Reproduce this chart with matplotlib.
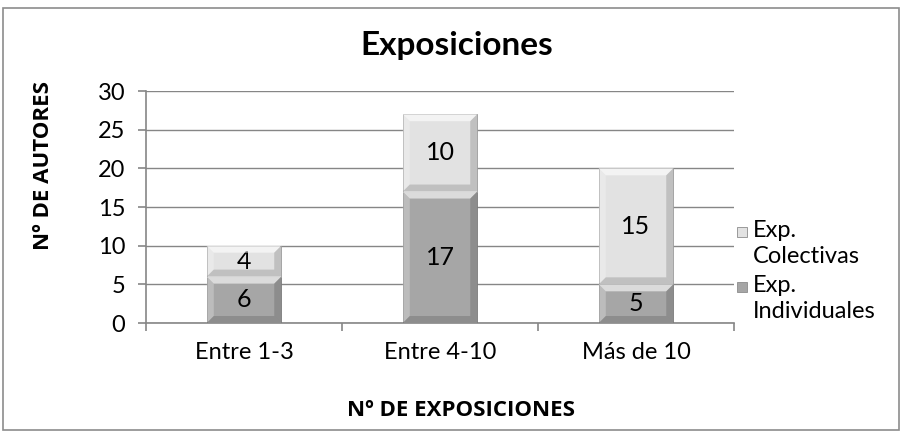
import matplotlib
matplotlib.use("Agg")
import matplotlib.pyplot as plt
from matplotlib.patches import Polygon, Rectangle
import numpy as np

categories = ["Entre 1-3", "Entre 4-10", "Más de 10"]
individuales = [6, 17, 5]
colectivas = [4, 10, 15]
series_names = ["Exp.\nIndividuales", "Exp.\nColectivas"]
yticks = [0, 5, 10, 15, 20, 25, 30]

plt.rcParams['font.family'] = ['Lato', 'DejaVu Sans']

W, H = 902, 432
fig = plt.figure(figsize=(W / 100, H / 100), dpi=100)
fig.patch.set_facecolor("white")
# outer frame
fig.add_artist(Rectangle((3 / W, 2 / H), 896 / W, 422 / H, transform=fig.transFigure,
                         fill=False, edgecolor="#8c8c8c", linewidth=1.2))

ax = fig.add_axes([146 / W, (H - 323) / H, (734 - 146) / W, (323 - 91) / H])
x = np.arange(len(categories))
width = 0.38
col_ind = "#a6a6a6"
col_col = "#e2e2e2"
b1 = ax.bar(x, individuales, width, color=col_ind, edgecolor="#7f7f7f", linewidth=0.6, zorder=3)
b2 = ax.bar(x, colectivas, width, bottom=individuales, color=col_col, edgecolor="#a0a0a0",
            linewidth=0.6, zorder=3)

FS = 17
ax.set_xlim(-0.5, len(categories) - 0.5)
ax.set_ylim(0, 30)
ax.set_yticks(yticks)
ax.set_xticks(x)
ax.set_xticklabels(categories, fontsize=FS)
ax.set_xticks(np.arange(len(categories) + 1) - 0.5, minor=True)
ax.tick_params(axis="x", which="major", length=0, pad=14)
ax.tick_params(axis="x", which="minor", length=6, color="#868686", width=1.2)
ax.tick_params(axis="y", length=6, color="#868686", width=1.2, labelsize=FS, pad=9)
ax.grid(axis="y", color="#868686", linewidth=1.0, zorder=0)
for s in ["top", "right"]:
    ax.spines[s].set_visible(False)
for s in ["left", "bottom"]:
    ax.spines[s].set_color("#868686")
    ax.spines[s].set_linewidth(1.2)

fig.canvas.draw()
# bevel effect computed from each bar's drawn geometry
bev = 7
for bars, base in [(b1, col_ind), (b2, col_col)]:
    for p in bars:
        bb = p.get_window_extent()
        x0, x1, y0, y1 = bb.x0, bb.x1, bb.y0, bb.y1
        b = min(bev, (y1 - y0) / 3)
        polys = [
            ([(x0, y1), (x1, y1), (x1 - b, y1 - b), (x0 + b, y1 - b)], "white", 0.6),
            ([(x0, y0), (x0, y1), (x0 + b, y1 - b), (x0 + b, y0 + b)], "white", 0.25),
            ([(x1, y0), (x1, y1), (x1 - b, y1 - b), (x1 - b, y0 + b)], "black", 0.15),
            ([(x0, y0), (x1, y0), (x1 - b, y0 + b), (x0 + b, y0 + b)], "black", 0.15),
        ]
        for pts, c, a in polys:
            fig.add_artist(Polygon(pts, closed=True, transform=None, facecolor=c,
                                   alpha=a, edgecolor="none", zorder=4))

for bars, vals in [(b1, individuales), (b2, colectivas)]:
    ax.bar_label(bars, labels=[str(v) for v in vals], label_type="center",
                 fontsize=FS + 1, color="black", zorder=5)

lab_font = ['Open Sans', 'DejaVu Sans']
fig.text(44 / W, 1 - 165 / H, "Nº DE AUTORES", fontsize=16, fontweight="bold",
         rotation=90, ha="center", va="center", family=lab_font)
fig.text(461 / W, 1 - 410 / H, "Nº DE EXPOSICIONES", fontsize=16, fontweight="bold",
         ha="center", va="center", family=lab_font)
fig.text(457 / W, 1 - 45 / H, "Exposiciones", fontsize=24, fontweight="bold",
         ha="center", va="center")

# legend
leg_items = [(series_names[1], col_col, 232), (series_names[0], col_ind, 287)]
for label, c, ypix in leg_items:
    fig.add_artist(Rectangle((737 / W, 1 - (ypix + 5) / H), 10 / W, 10 / H,
                             transform=fig.transFigure, facecolor=c,
                             edgecolor="#8c8c8c", linewidth=0.6))
    fig.text(753 / W, 1 - (ypix - 12) / H, label, fontsize=FS, ha="left", va="top",
             linespacing=1.3)

fig.savefig("out.png", dpi=100)
